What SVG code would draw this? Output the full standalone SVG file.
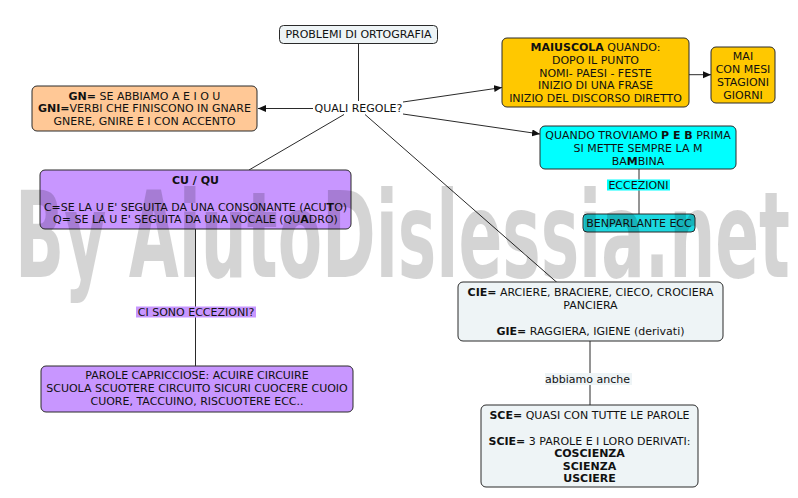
<svg xmlns="http://www.w3.org/2000/svg" width="798" height="498" viewBox="0 0 798 498">
<defs>
<style>
text{font-family:"DejaVu Sans",Verdana,sans-serif;font-size:11px;fill:#111;text-anchor:middle}
.b{font-weight:bold}
.box{stroke:#2a2a2a;stroke-width:1}
.light{fill:#eef4f6}
.peach{fill:#ffc896}
.gold{fill:#ffc800}
.cyan{fill:#00ffff}
.cyan2{fill:#1cd8e0}
.purple{fill:#c896ff}
.conn line{stroke:#2a2a2a;stroke-width:1;fill:none}
.wm{font-family:"DejaVu Sans Condensed","DejaVu Sans",sans-serif;font-stretch:condensed;font-weight:bold;font-size:120px;fill:#000;fill-opacity:0.17;text-anchor:start}
</style>
<marker id="arr" markerWidth="9" markerHeight="8" refX="8" refY="3.5" orient="auto" markerUnits="userSpaceOnUse">
<path d="M0,0 L8,3.5 L0,7 z" fill="#111"/>
</marker>
</defs>
<rect width="798" height="498" fill="#fff"/>

<g id="connectors" class="conn">
<line x1="358.5" y1="43" x2="358.5" y2="101"/>
<line x1="313" y1="108.5" x2="258" y2="108.5" marker-end="url(#arr)"/>
<line x1="403" y1="102" x2="502" y2="87.5" marker-end="url(#arr)"/>
<line x1="689" y1="74.7" x2="711" y2="74.7" marker-end="url(#arr)"/>
<line x1="403" y1="114" x2="540" y2="134" marker-end="url(#arr)"/>
<line x1="639" y1="169" x2="639" y2="214"/>
<line x1="344" y1="114.5" x2="249" y2="170"/>
<line x1="365" y1="114.5" x2="557" y2="282.5"/>
<line x1="195.5" y1="229" x2="195.5" y2="366"/>
<line x1="590" y1="341" x2="590" y2="405"/>
</g>

<g id="root">
<rect class="box light" x="279.5" y="25.5" width="158" height="18" rx="4"/>
<text x="358.5" y="38">PROBLEMI DI ORTOGRAFIA</text>
</g>

<g id="quali">
<text x="358.5" y="112">QUALI REGOLE?</text>
</g>

<g id="gn">
<rect class="box peach" x="32" y="86" width="225" height="45" rx="5"/>
<text x="144.5" y="99.7"><tspan class="b">GN=</tspan> SE ABBIAMO A E I O U</text>
<text x="144.5" y="112.3"><tspan class="b">GNI=</tspan>VERBI CHE FINISCONO IN GNARE</text>
<text x="144.5" y="124.7">GNERE, GNIRE E I CON ACCENTO</text>
</g>

<g id="maiuscola">
<rect class="box gold" x="502" y="38" width="187" height="69" rx="5"/>
<text x="595.5" y="50.7"><tspan class="b">MAIUSCOLA</tspan> QUANDO:</text>
<text x="595.5" y="63.6">DOPO IL PUNTO</text>
<text x="595.5" y="76.5">NOMI- PAESI - FESTE</text>
<text x="595.5" y="89.4">INIZIO DI UNA FRASE</text>
<text x="595.5" y="102.3">INIZIO DEL DISCORSO DIRETTO</text>
</g>

<g id="mai">
<rect class="box gold" x="711" y="47" width="64" height="56" rx="5"/>
<text x="743" y="59.8">MAI</text>
<text x="743" y="72.7">CON MESI</text>
<text x="743" y="85.6">STAGIONI</text>
<text x="743" y="98.5">GIORNI</text>
</g>

<g id="peb">
<rect class="box cyan" x="540" y="126" width="196" height="43" rx="5"/>
<text x="638" y="139">QUANDO TROVIAMO <tspan class="b">P E B</tspan> PRIMA</text>
<text x="638" y="151.9">SI METTE SEMPRE LA M</text>
<text x="638" y="164.8">BA<tspan class="b">M</tspan>BINA</text>
</g>

<g id="eccezioni-label">
<rect class="cyan" x="607" y="179.5" width="63" height="11"/>
<text x="638.5" y="189">ECCEZIONI</text>
</g>

<g id="benparlante">
<rect class="box cyan2" x="583" y="214" width="112" height="18" rx="4"/>
<text x="639" y="227">BENPARLANTE ECC</text>
</g>

<g id="cuqu">
<rect class="box purple" x="40" y="170" width="311" height="59" rx="5"/>
<text class="b" x="195.5" y="184">CU / QU</text>
<text x="195.5" y="210.7">C=SE LA U E' SEGUITA DA UNA CONSONANTE (ACU<tspan class="b">T</tspan>O)</text>
<text x="195.5" y="223.3">Q= SE LA U E' SEGUITA DA UNA VOCALE (QU<tspan class="b">A</tspan>DRO)</text>
</g>

<g id="ci-sono-label">
<rect class="purple" x="136" y="306.5" width="120" height="11"/>
<text x="196" y="316.3">CI SONO ECCEZIONI?</text>
</g>

<g id="parole">
<rect class="box purple" x="41" y="366" width="312" height="46" rx="5"/>
<text x="197" y="379">PAROLE CAPRICCIOSE: ACUIRE CIRCUIRE</text>
<text x="197" y="392.3">SCUOLA SCUOTERE CIRCUITO SICURI CUOCERE CUOIO</text>
<text x="197" y="405.3">CUORE, TACCUINO, RISCUOTERE ECC..</text>
</g>

<g id="cie">
<rect class="box light" x="458" y="282" width="265" height="59" rx="5"/>
<text x="590.5" y="296.3"><tspan class="b">CIE=</tspan> ARCIERE, BRACIERE, CIECO, CROCIERA</text>
<text x="590.5" y="309">PANCIERA</text>
<text x="590.5" y="335"><tspan class="b">GIE=</tspan> RAGGIERA, IGIENE (derivati)</text>
</g>

<g id="abbiamo-label">
<rect class="light" x="545" y="373" width="87" height="12"/>
<text x="587.5" y="383">abbiamo anche</text>
</g>

<g id="sce">
<rect class="box light" x="481" y="405" width="217" height="82" rx="5"/>
<text x="589.5" y="419"><tspan class="b">SCE=</tspan> QUASI CON TUTTE LE PAROLE</text>
<text x="589.5" y="445"><tspan class="b">SCIE=</tspan> 3 PAROLE E I LORO DERIVATI:</text>
<text class="b" x="589.5" y="456.7">COSCIENZA</text>
<text class="b" x="589.5" y="469.7">SCIENZA</text>
<text class="b" x="589.5" y="482.3">USCIERE</text>
</g>

<text class="wm" x="15" y="277" textLength="775" lengthAdjust="spacingAndGlyphs">By AiutoDislessia.net</text>
</svg>
